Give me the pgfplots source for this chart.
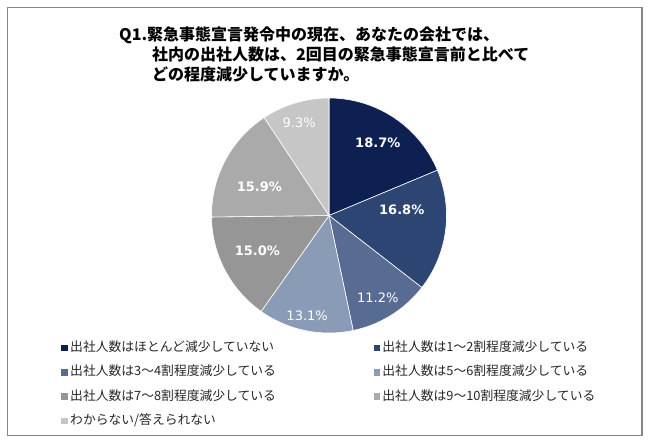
\documentclass[border=0pt]{standalone}
\usepackage{pgfplots}
\pgfplotsset{compat=1.18}
\usepackage{fontspec}
\setmainfont{Noto Sans CJK JP}
\newfontfamily\jp{Noto Sans CJK JP}
\newfontfamily\dv{DejaVu Sans}
\definecolor{c1}{HTML}{0E2052}
\definecolor{c2}{HTML}{2C4573}
\definecolor{c3}{HTML}{586C93}
\definecolor{c4}{HTML}{8A9BB6}
\definecolor{c5}{HTML}{969696}
\definecolor{c6}{HTML}{AAAAAA}
\definecolor{c7}{HTML}{C6C6C6}
\definecolor{framec}{HTML}{858585}
% shares (percent), clockwise from 12 o'clock
\newcommand\pA{18.7}
\newcommand\pB{16.8}
\newcommand\pC{11.2}
\newcommand\pD{13.1}
\newcommand\pE{15.0}
\newcommand\pF{15.9}
\newcommand\pG{9.3}
\begin{document}
\begin{tikzpicture}
\pgfmathsetmacro\aA{0}
\pgfmathsetmacro\aB{\aA+3.6*\pA}
\pgfmathsetmacro\aC{\aB+3.6*\pB}
\pgfmathsetmacro\aD{\aC+3.6*\pC}
\pgfmathsetmacro\aE{\aD+3.6*\pD}
\pgfmathsetmacro\aF{\aE+3.6*\pE}
\pgfmathsetmacro\aG{\aF+3.6*\pF}
\pgfmathsetmacro\aH{\aG+3.6*\pG}
\path (0pt,0pt) rectangle (650pt,-444pt);
\draw[framec, line width=1.6pt] (7.5pt,-7.5pt) rectangle (642pt,-435.5pt);
% title
\begin{scope}[every node/.style={inner sep=0pt, anchor=west, font=\jp\bfseries\fontsize{16}{18}\selectfont}]
\node at (119pt,-35pt) {Q1.緊急事態宣言発令中の現在、あなたの会社では、};
\node at (152pt,-54.5pt) {社内の出社人数は、2回目の緊急事態宣言前と比べて};
\node at (152pt,-74pt) {どの程度減少していますか。};
\end{scope}
\begin{axis}[
  at={(329pt,-215.5pt)}, anchor=center,
  scale only axis, width=235pt, height=235pt,
  xmin=-1, xmax=1, ymin=-1, ymax=1,
  hide axis, clip=false,
  legend columns=2,
  legend image code/.code={\fill[#1] (0pt,-3.2pt) rectangle (6.4pt,3.2pt);},
  legend style={draw=none, fill=none, inner sep=0pt,
    at={(-0.64,-0.04)}, anchor=north west,
    font=\jp\fontsize{12.8}{14}\selectfont, text=black!85,
    row sep=13.2pt,
    nodes={inner xsep=2.5pt, inner ysep=0pt, text height=9pt, text depth=2pt},
    /tikz/every even column/.append style={column sep=95pt}},
  legend cell align=left,
]
\addplot[fill=c1, draw=white, line width=0.6pt, domain=\aA:\aB, samples=60, forget plot] ({sin(x)},{cos(x)}) -- (axis cs:0,0) -- cycle;
\addplot[fill=c2, draw=white, line width=0.6pt, domain=\aB:\aC, samples=60, forget plot] ({sin(x)},{cos(x)}) -- (axis cs:0,0) -- cycle;
\addplot[fill=c3, draw=white, line width=0.6pt, domain=\aC:\aD, samples=60, forget plot] ({sin(x)},{cos(x)}) -- (axis cs:0,0) -- cycle;
\addplot[fill=c4, draw=white, line width=0.6pt, domain=\aD:\aE, samples=60, forget plot] ({sin(x)},{cos(x)}) -- (axis cs:0,0) -- cycle;
\addplot[fill=c5, draw=white, line width=0.6pt, domain=\aE:\aF, samples=60, forget plot] ({sin(x)},{cos(x)}) -- (axis cs:0,0) -- cycle;
\addplot[fill=c6, draw=white, line width=0.6pt, domain=\aF:\aG, samples=60, forget plot] ({sin(x)},{cos(x)}) -- (axis cs:0,0) -- cycle;
\addplot[fill=c7, draw=white, line width=0.6pt, domain=\aG:\aH, samples=60, forget plot] ({sin(x)},{cos(x)}) -- (axis cs:0,0) -- cycle;
\addlegendimage{fill=c1, draw=none}
\addlegendentry{出社人数はほとんど減少していない}
\addlegendimage{fill=c2, draw=none}
\addlegendentry{出社人数は1～2割程度減少している}
\addlegendimage{fill=c3, draw=none}
\addlegendentry{出社人数は3～4割程度減少している}
\addlegendimage{fill=c4, draw=none}
\addlegendentry{出社人数は5～6割程度減少している}
\addlegendimage{fill=c5, draw=none}
\addlegendentry{出社人数は7～8割程度減少している}
\addlegendimage{fill=c6, draw=none}
\addlegendentry{出社人数は9～10割程度減少している}
\addlegendimage{fill=c7, draw=none}
\addlegendentry{わからない/答えられない}
% slice labels
\begin{scope}[every node/.style={text=white, inner sep=0pt, font=\dv\fontsize{13}{15}\selectfont}]
\node[font=\dv\bfseries\fontsize{13}{15}\selectfont] at (axis cs:0.415,0.619) {18.7\%};
\node[font=\dv\bfseries\fontsize{13}{15}\selectfont] at (axis cs:0.619,0.051) {16.8\%};
\node at (axis cs:0.415,-0.703) {11.2\%};
\node at (axis cs:-0.186,-0.856) {13.1\%};
\node[font=\dv\bfseries\fontsize{13}{15}\selectfont] at (axis cs:-0.610,-0.297) {15.0\%};
\node[font=\dv\bfseries\fontsize{13}{15}\selectfont] at (axis cs:-0.593,0.246) {15.9\%};
\node at (axis cs:-0.254,0.788) {9.3\%};
\end{scope}
\end{axis}
\end{tikzpicture}
\end{document}
